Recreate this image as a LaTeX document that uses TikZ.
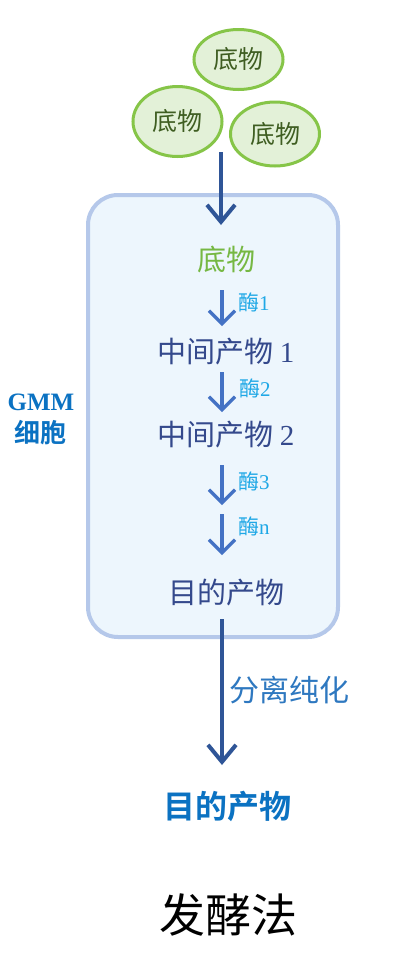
\documentclass[tikz,border=0pt]{standalone}
\usepackage{fontspec}
\setmainfont{Liberation Serif}
\newfontfamily\cjk{Noto Sans CJK SC}
\newfontfamily\cjkb{Noto Sans CJK SC Bold}
\usetikzlibrary{shapes.geometric,arrows.meta}
\definecolor{subgreen}{HTML}{E3F1D8}
\definecolor{subedge}{HTML}{86C548}
\definecolor{subtext}{HTML}{3F5E22}
\definecolor{boxfill}{HTML}{EDF6FD}
\definecolor{boxedge}{HTML}{B5C8EA}
\definecolor{darkarrow}{HTML}{2F5597}
\definecolor{midarrow}{HTML}{4472C4}
\definecolor{enz}{HTML}{1FA8E6}
\definecolor{prod}{HTML}{34498C}
\definecolor{gtxt}{HTML}{76B843}
\definecolor{bluebold}{HTML}{0B72C2}
\definecolor{sep}{HTML}{2E78C0}
\begin{document}
\begin{tikzpicture}[x=1pt,y=-1pt,
  substrate/.style={ellipse,draw=subedge,line width=3pt,fill=subgreen,minimum width=89pt,minimum height=60pt,inner sep=0pt,text=subtext,font=\cjk\fontsize{25}{27}\selectfont},
  bigarrow/.style={draw=darkarrow,line width=4pt,-{Straight Barb[length=17pt,width=28pt,line width=4pt]}},
  smallarrow/.style={draw=midarrow,line width=3.2pt,-{Straight Barb[length=13pt,width=26pt,line width=3.2pt]}},
  enzlabel/.style={anchor=west,text=enz,inner sep=0pt,font=\fontsize{21}{23}\selectfont},
  prodtext/.style={text=prod,inner sep=0pt,font=\cjk\fontsize{29}{31}\selectfont}]
\useasboundingbox[fill=white] (0,0) rectangle (409,970);
% cell box
\node[draw=boxedge,line width=4pt,fill=boxfill,rounded corners=30pt,minimum width=250pt,minimum height=442pt,inner sep=0pt] (cell) at (213,416) {};
% substrates
\node[substrate] (s1) at (238.5,59.5) {底物};
\node[substrate,minimum height=70pt] (s2) at (177.5,121.5) {底物};
\node[substrate,minimum height=64pt] (s3) at (275,134) {底物};
% top arrow
\coordinate (topstart) at (221,152);
\coordinate (topend) at (221,225);
\draw[bigarrow] (topstart) -- (topend);
% inside texts
\node[text=gtxt,inner sep=0pt,font=\cjk\fontsize{29}{31}\selectfont] (sub) at (226,259) {底物};
\node[prodtext] (m1) at (226,352) {中间产物 {\fontspec{Liberation Serif}1}};
\node[prodtext] (m2) at (226,435) {中间产物 {\fontspec{Liberation Serif}2}};
\node[prodtext] (tgt) at (226,593) {目的产物};
% small arrows
\coordinate (a1s) at (222,290); \coordinate (a1e) at (222,326);
\coordinate (a2s) at (222,372); \coordinate (a2e) at (222,412);
\coordinate (a3s) at (222,465); \coordinate (a3e) at (222,505);
\coordinate (a4s) at (222,514); \coordinate (a4e) at (222,555);
\draw[smallarrow] (a1s) -- (a1e);
\draw[smallarrow] (a2s) -- (a2e);
\draw[smallarrow] (a3s) -- (a3e);
\draw[smallarrow] (a4s) -- (a4e);
\node[enzlabel] (e1) at (238,302) {{\cjk 酶}1};
\node[enzlabel] (e2) at (239,388) {{\cjk 酶}2};
\node[enzlabel] (e3) at (238,481) {{\cjk 酶}3};
\node[enzlabel] (e4) at (238,526) {{\cjk 酶}n};
% GMM label
\node[text=bluebold,inner sep=0pt,font=\bfseries\fontsize{25}{27}\selectfont] (gmm) at (41,402) {GMM};
\node[text=bluebold,inner sep=0pt,font=\cjkb\fontsize{26}{28}\selectfont] (cellname) at (40,433) {细胞};
% separation arrow
\coordinate (sepstart) at (222,619);
\coordinate (sepend) at (222,765);
\draw[bigarrow] (sepstart) -- (sepend);
\node[text=sep,anchor=west,inner sep=0pt,font=\cjk\fontsize{30}{32}\selectfont] (seplabel) at (229,690) {分离纯化};
\node[text=bluebold,inner sep=0pt,font=\cjkb\fontsize{32}{34}\selectfont] (final) at (227,806) {目的产物};
\node[text=black,inner sep=0pt,font=\cjk\fontsize{46}{48}\selectfont] (title) at (228,915) {发酵法};
\end{tikzpicture}
\end{document}
